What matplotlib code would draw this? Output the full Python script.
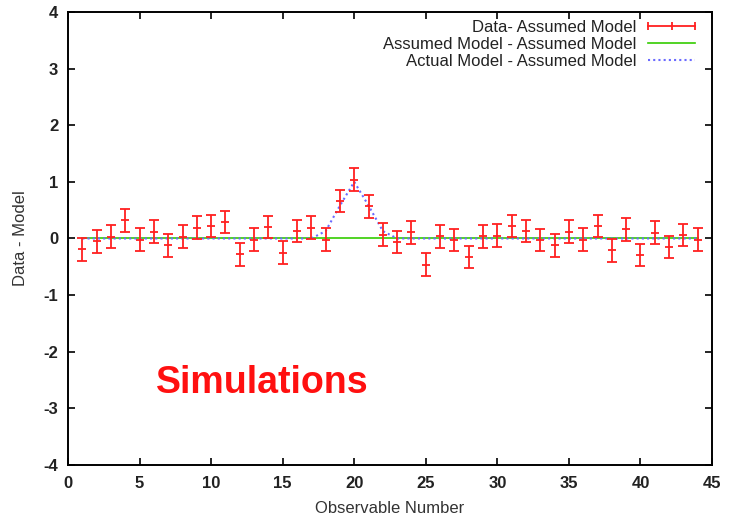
import matplotlib
matplotlib.use("Agg")
import matplotlib.pyplot as plt
from matplotlib.lines import Line2D

plt.rcParams['font.family'] = ['Liberation Sans', 'DejaVu Sans']
plt.rcParams['axes.unicode_minus'] = False

obs = list(range(1, 45))
data = [-0.19, -0.05, 0.03, 0.32, -0.02, 0.12, -0.12, 0.03, 0.19, 0.22,
        0.29, -0.28, -0.02, 0.20, -0.25, 0.13, 0.19, -0.02, 0.66, 1.04,
        0.57, 0.07, -0.06, 0.11, -0.46, 0.04, -0.03, -0.33, 0.04, 0.05,
        0.22, 0.13, -0.03, -0.12, 0.12, -0.02, 0.22, -0.21, 0.16, -0.29,
        0.10, -0.15, 0.06, -0.02]
err = [0.20] * 44
assumed = [0.0] * 44
actual = [0.0] * 17 + [0.13, 0.58, 1.0, 0.58, 0.13] + [0.0] * 22

xticks = list(range(0, 46, 5))
yticks = list(range(-4, 5))

fig = plt.figure(figsize=(7.29, 5.20), dpi=100)
ax = fig.add_axes([0.0933, 0.1058, 0.8834, 0.8712])

red = '#ff2020'
green = '#33cc00'
blue = '#6a6aff'

ax.errorbar(obs, data, yerr=err, fmt='_', color=red, ecolor=red,
            elinewidth=1.3, capsize=3.5, capthick=1.3, markersize=6,
            markeredgewidth=1.3, zorder=3)
ax.plot(obs, assumed, color=green, lw=1.2, zorder=2)
ax.plot(obs, actual, color=blue, lw=1.5, linestyle=(0, (1, 1.5)), zorder=2.5)

ax.set_xlim(0, 45)
ax.set_ylim(-4, 4)
ax.set_xticks(xticks)
ax.set_yticks(yticks)
ax.tick_params(direction='in', top=True, right=True, length=5, width=1.2,
               labelsize=12, colors='black')
ax.tick_params(axis='x', pad=8)
ax.tick_params(axis='y', pad=7)
for lab in ax.get_xticklabels() + ax.get_yticklabels():
    lab.set_fontweight('bold')
    lab.set_color('#222222')
for s in ax.spines.values():
    s.set_linewidth(1.4)

ax.set_xlabel('Observable Number', fontsize=12, color='#333333', labelpad=7)
ax.set_ylabel('Data - Model', fontsize=12, color='#333333', labelpad=11)

ax.text(6.15, -2.55, 'Simulations', color='#ff1010', fontsize=27,
        fontweight='bold', va='center', ha='left')

h1 = Line2D([0], [0], color=red, lw=1.3, marker='|', markersize=6,
            markeredgewidth=1.3)
h2 = Line2D([0], [0], color=green, lw=1.2)
h3 = Line2D([0], [0], color=blue, lw=1.5, linestyle=(0, (1, 1.5)))
leg = ax.legend([h1, h2, h3],
                ['Data- Assumed Model', 'Assumed Model - Assumed Model',
                 'Actual Model - Assumed Model'],
                loc='upper right', bbox_to_anchor=(0.989, 0.994),
                markerfirst=False, frameon=False,
                fontsize=12, numpoints=3, handlelength=3.4,
                labelspacing=0.12, borderaxespad=0.0, handletextpad=0.4,
                borderpad=0.3)
for t in leg.get_texts():
    t.set_ha('right')
    t.set_color('#222222')

fig.savefig('out.png', dpi=100)
